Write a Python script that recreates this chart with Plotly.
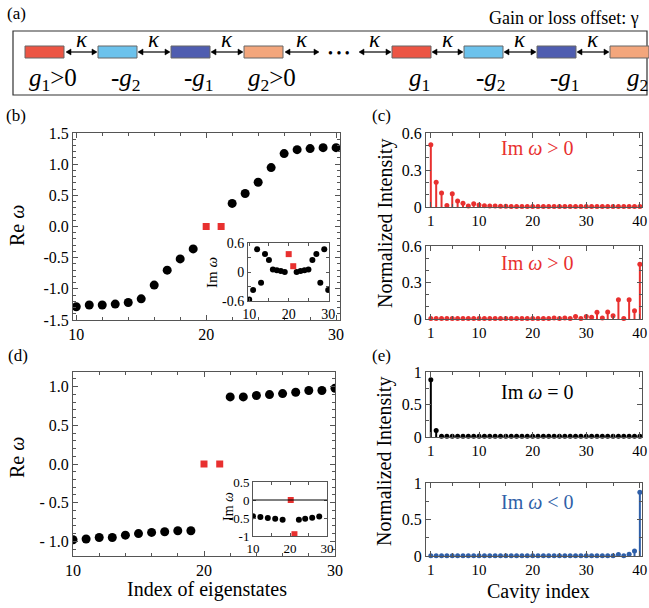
import plotly.graph_objects as go

W, H = 649, 608
FONT = "Liberation Serif"

# ---------------- data ----------------
# panel (b): real part of eigenvalues
b_idx = [10, 11, 12, 13, 14, 15, 16, 17, 18, 19, 22, 23, 24, 25, 26, 27, 28, 29, 30]
b_re = [-1.287, -1.26, -1.26, -1.245, -1.22, -1.16, -0.94, -0.70, -0.52, -0.36,
        0.37, 0.53, 0.71, 0.945, 1.17, 1.233, 1.25, 1.265, 1.265]
b_edge_idx = [20, 21.15]
b_edge_re = [0.0, 0.0]
# inset (b): imaginary part
b_im = [-0.57, -0.37, 0.47, -0.22, 0.37, 0.25, 0.05, 0.035, 0.02, 0.0,
        0.0, 0.02, 0.035, 0.05, 0.25, 0.37, -0.22, 0.47, -0.37]
b_edge_im = [0.37, 0.12]

# panel (c): normalized intensity vs cavity index
cavity = list(range(1, 41))
c_top = [0.505, 0.2, 0.113, 0.013, 0.108, 0.049, 0.03, 0.008, 0.027, 0.016,
         0.01, 0.008, 0.008, 0.006, 0.006, 0.005, 0.005, 0.005, 0.005, 0.005,
         0.005, 0.005, 0.005, 0.005, 0.005, 0.005, 0.005, 0.005, 0.005, 0.005,
         0.005, 0.005, 0.005, 0.005, 0.005, 0.005, 0.005, 0.005, 0.005, 0.005]
c_bot = [0.005, 0.005, 0.005, 0.005, 0.005, 0.005, 0.005, 0.005, 0.005, 0.005,
         0.005, 0.005, 0.005, 0.005, 0.005, 0.005, 0.005, 0.005, 0.005, 0.005,
         0.005, 0.005, 0.005, 0.008, 0.005, 0.008, 0.005, 0.02, 0.005, 0.02,
         0.015, 0.055, 0.008, 0.057, 0.027, 0.158, 0.005, 0.158, 0.068, 0.45]

# panel (d)
d_idx = [10, 11, 12, 13, 14, 15, 16, 17, 18, 19, 22, 23, 24, 25, 26, 27, 28, 29, 30]
d_re = [-0.98, -0.97, -0.95, -0.95, -0.92, -0.90, -0.885, -0.877, -0.864, -0.864,
        0.868, 0.868, 0.886, 0.898, 0.911, 0.928, 0.95, 0.95, 0.98]
d_edge_idx = [20, 21.2]
d_edge_re = [0.0, 0.0]
# inset (d)
d_in_idx = [10, 12, 14, 16, 18, 22.4, 24.1, 26, 27.9]
d_in_im = [-0.45, -0.47, -0.5, -0.52, -0.55, -0.55, -0.52, -0.49, -0.46]
d_edge_in_idx = [20.2, 21.2]
d_edge_im = [0.0, -0.95]

# panel (e)
e_top = [0.88, 0.1] + [0.01] * 38
e_bot = [0.003] * 35 + [0.02, 0.005, 0.023, 0.07, 0.874]

# panel (a) chain
chain_colors = ["#ec5544", "#6cc2ec", "#4f5db0", "#f3a67c",
                "#ec5544", "#6cc2ec", "#4f5db0", "#f3a67c"]
chain_labels = ["<i>g</i><sub>1</sub>>0", "-<i>g</i><sub>2</sub>", "-<i>g</i><sub>1</sub>",
                "<i>g</i><sub>2</sub>>0", "<i>g</i><sub>1</sub>", "-<i>g</i><sub>2</sub>",
                "-<i>g</i><sub>1</sub>", "<i>g</i><sub>2</sub>"]

RED = "#e8302f"
BLUE = "#2f5fa8"
BLACK = "#000000"


def px(x):
    return x / W


def py(y):
    return 1 - y / H


def dx(x0, x1):
    return [x0 / W, x1 / W]


def dy(y0, y1):
    return [1 - y1 / H, 1 - y0 / H]


fig = go.Figure()

# ---------- (b) main ----------
fig.add_trace(go.Scatter(x=b_idx, y=b_re, mode="markers", xaxis="x", yaxis="y",
                         marker=dict(color=BLACK, size=9), showlegend=False))
fig.add_trace(go.Scatter(x=b_edge_idx, y=b_edge_re, mode="markers", xaxis="x", yaxis="y",
                         marker=dict(color=RED, size=7, symbol="square"), showlegend=False))
# (b) inset
fig.add_trace(go.Scatter(x=b_idx, y=b_im, mode="markers", xaxis="x2", yaxis="y2",
                         marker=dict(color=BLACK, size=6), showlegend=False))
fig.add_trace(go.Scatter(x=b_edge_idx, y=b_edge_im, mode="markers", xaxis="x2", yaxis="y2",
                         marker=dict(color=RED, size=6, symbol="square"), showlegend=False))

# ---------- (d) main ----------
fig.add_trace(go.Scatter(x=d_idx, y=d_re, mode="markers", xaxis="x5", yaxis="y5",
                         marker=dict(color=BLACK, size=9), showlegend=False))
fig.add_trace(go.Scatter(x=d_edge_idx, y=d_edge_re, mode="markers", xaxis="x5", yaxis="y5",
                         marker=dict(color=RED, size=7, symbol="square"), showlegend=False))
# (d) inset
fig.add_trace(go.Scatter(x=d_in_idx, y=d_in_im, mode="markers", xaxis="x6", yaxis="y6",
                         marker=dict(color=BLACK, size=6), showlegend=False))
fig.add_trace(go.Scatter(x=d_edge_in_idx, y=d_edge_im, mode="markers", xaxis="x6", yaxis="y6",
                         marker=dict(color=RED, size=6, symbol="square"), showlegend=False))


def stems(xs, ys, color, xa, ya):
    lx, ly = [], []
    for xv, yv in zip(xs, ys):
        lx += [xv, xv, None]
        ly += [0, yv, None]
    fig.add_trace(go.Scatter(x=lx, y=ly, mode="lines", xaxis=xa, yaxis=ya,
                             line=dict(color=color, width=2), showlegend=False))
    fig.add_trace(go.Scatter(x=xs, y=ys, mode="markers", xaxis=xa, yaxis=ya,
                             marker=dict(color=color, size=5), showlegend=False,
                             cliponaxis=False))


stems(cavity, c_top, RED, "x3", "y3")
stems(cavity, c_bot, RED, "x4", "y4")
stems(cavity, e_top, BLACK, "x7", "y7")
stems(cavity, e_bot, BLUE, "x8", "y8")

AX = dict(showline=True, linecolor="#555555", linewidth=1, mirror="allticks",
          ticks="inside", ticklen=5, tickcolor="#555555", showgrid=False, zeroline=False,
          automargin=False, ticklabeloverflow="allow")


def axis(domain, rng, anchor, tickvals, ticktext, minor_dtick=None, minor_tick0=0,
         fs=16, ticklen=5):
    d = dict(AX)
    d.update(domain=domain, range=rng, anchor=anchor, tickmode="array",
             tickvals=tickvals, ticktext=ticktext, ticklen=ticklen,
             tickfont=dict(family=FONT, size=fs, color="black"))
    if minor_dtick:
        d["minor"] = dict(ticks="inside", ticklen=3, dtick=minor_dtick, tick0=minor_tick0,
                          tickcolor="#555555")
    return d


cav_vals = [1, 10, 20, 30, 40]
cav_text = ["1", "10", "20", "30", "40"]
CX = dx(426, 642)
CR = [0.1, 40.4]

layout = dict(
    width=W, height=H, autosize=False,
    margin=dict(l=0, r=0, t=0, b=0, pad=0, autoexpand=False),
    paper_bgcolor="white", plot_bgcolor="white", showlegend=False,
    font=dict(family=FONT, color="black"),
    # (b)
    xaxis=axis(dx(73, 340), [9.75, 30.3], "y", [10, 20, 30], ["10", "20", "30"], 2),
    yaxis=axis(dy(133, 320), [-1.5, 1.5], "x", [-1.5, -1, -0.5, 0, 0.5, 1, 1.5],
               ["-1.5", "-1.0", "-0.5", "0.0", "0.5", "1.0", "1.5"], 0.1),
    xaxis2=axis(dx(248, 329), [9.7, 30.2], "y2", [10, 20, 30], ["10", "20", "30"], 5,
                fs=14, ticklen=3),
    yaxis2=axis(dy(243, 301), [-0.6, 0.6], "x2", [-0.6, 0, 0.6], ["-0.6", "0", "0.6"], 0.3,
                fs=14, ticklen=3),
    # (c)
    xaxis3=axis(CX, CR, "y3", cav_vals, cav_text, 5, fs=15),
    yaxis3=axis(dy(133, 207), [0, 0.6], "x3", [0, 0.3, 0.6], ["0", "0.3", "0.6"], 0.1),
    xaxis4=axis(CX, CR, "y4", cav_vals, cav_text, 5, fs=15),
    yaxis4=axis(dy(246, 319), [0, 0.6], "x4", [0, 0.3, 0.6], ["0", "0.3", "0.6"], 0.1),
    # (d)
    xaxis5=axis(dx(73, 335), [10, 30], "y5", [10, 20, 30], ["10", "20", "30"], 2),
    yaxis5=axis(dy(372, 556), [-1.19, 1.19], "x5", [-1, -0.5, 0, 0.5, 1],
                ["- 1.0", "- 0.5", "0.0", "0.5", "1.0"], 0.1),
    xaxis6=axis(dx(253, 327), [10, 30], "y6", [10, 20, 30], ["10", "20", "30"], 5,
                fs=13, ticklen=3),
    yaxis6=axis(dy(482, 536), [-1, 0.5], "x6", [-1, -0.5, 0, 0.5], ["-1", "-0.5", "0", "0.5"],
                None, fs=13, ticklen=3),
    # (e)
    xaxis7=axis(CX, CR, "y7", cav_vals, cav_text, 5, fs=15),
    yaxis7=axis(dy(372, 437), [0, 1], "x7", [0, 0.5, 1], ["0", "0.5", "1"], 0.25),
    xaxis8=axis(CX, CR, "y8", cav_vals, cav_text, 5, fs=15),
    yaxis8=axis(dy(483, 556), [0, 1], "x8", [0, 0.5, 1], ["0", "0.5", "1"], 0.25),
)
fig.update_layout(**layout)

shapes = []
ann = []


def text(t, xx, yy, size=20, angle=0, color="black", xanchor="center"):
    ann.append(dict(x=px(xx), y=py(yy), xref="paper", yref="paper", text=t,
                    showarrow=False, textangle=angle, xanchor=xanchor, yanchor="middle",
                    font=dict(family=FONT, size=size, color=color)))


# zero line in inset (d)
shapes.append(dict(type="line", xref="x6 domain", yref="y6", x0=0, x1=1, y0=0, y1=0,
                   line=dict(color="black", width=1)))

# ---------- panel (a) diagram ----------
shapes.append(dict(type="rect", xref="paper", yref="paper", x0=px(13), x1=px(647),
                   y0=py(95), y1=py(31), line=dict(color="#333333", width=1.2)))
rect_x = [25, 98, 171, 244, 392, 464, 537, 610]
rect_w = 39
for i, (x0, col) in enumerate(zip(rect_x, chain_colors)):
    shapes.append(dict(type="rect", xref="paper", yref="paper", x0=px(x0), x1=px(x0 + rect_w),
                       y0=py(58), y1=py(46), fillcolor=col,
                       line=dict(color="#666666", width=1)))
    text(chain_labels[i], x0 + rect_w / 2 + (8 if ">" in chain_labels[i] else 0), 79, 25)


def arrow_head(xtip, ytip, direction):
    L, Wd = 5, 3
    xb = xtip - direction * L
    return dict(type="path", xref="paper", yref="paper",
                path="M {:.5f},{:.5f} L {:.5f},{:.5f} L {:.5f},{:.5f} Z".format(
                    px(xtip), py(ytip), px(xb), py(ytip - Wd), px(xb), py(ytip + Wd)),
                fillcolor="black", line=dict(color="black", width=0.5))


arrow_spans = [(65, 98), (137, 171), (210, 244), (284, 320), (358, 392),
               (431, 464), (503, 537), (576, 610)]
ay_ = 52
for (a0, a1) in arrow_spans:
    shapes.append(dict(type="line", xref="paper", yref="paper", x0=px(a0 + 2), x1=px(a1 - 2),
                       y0=py(ay_), y1=py(ay_), line=dict(color="black", width=1.2)))
    shapes.append(arrow_head(a0 + 1, ay_, -1))
    shapes.append(arrow_head(a1 - 1, ay_, 1))
    text("<i>κ</i>", (a0 + a1) / 2, 40, 23)
text("• • •", 339, 53, 14)
text("Gain or loss offset: γ", 641, 18, 18, xanchor="right")

# panel labels
for lab, xx, yy in [("(a)", 16, 13), ("(b)", 16, 116), ("(c)", 381, 116),
                    ("(d)", 18, 355), ("(e)", 381, 355)]:
    text(lab, xx, yy, 17)

text("Re <i>ω</i>", 17, 226, 20, -90)
text("Re <i>ω</i>", 17, 458, 20, -90)
text("Im <i>ω</i>", 212, 272, 15, -90)
text("Im <i>ω</i>", 228, 507, 14, -90)
text("Index of eigenstates", 207, 589, 20)
text("Cavity index", 538, 591, 20)
text("Normalized Intensity", 385, 224, 20, -90)
text("Normalized Intensity", 385, 462, 20, -90)
text("Im <i>ω</i> > 0", 537, 148, 20, 0, RED)
text("Im <i>ω</i> > 0", 537, 263, 20, 0, RED)
text("Im <i>ω</i> = 0", 537, 392, 20, 0, "black")
text("Im <i>ω</i> < 0", 537, 502, 20, 0, BLUE)

fig.update_layout(shapes=shapes, annotations=ann)
fig.write_html("out.html", config={"displayModeBar": False},
               post_script="document.body.style.margin='0px';")
